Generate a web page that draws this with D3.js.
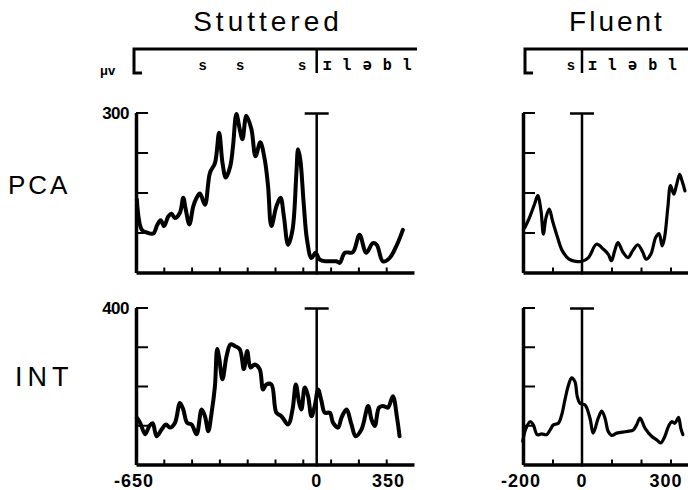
<html>
<head>
  <script src="https://d3js.org/d3.v7.min.js"></script>
  <style>
    body { margin: 0; background: #fff; }
    text { font-family: "Liberation Sans", Arial, sans-serif; fill: #000; }
    .trace { fill: none; stroke: #000; stroke-width: 3.5; stroke-linejoin: round; stroke-linecap: round; }
    .axis path { stroke: #000; stroke-width: 3.5; }
    .axis line { stroke: #000; stroke-width: 2; }
    .zero { stroke: #000; stroke-width: 2.5; }
    .box { fill: none; stroke: #000; stroke-width: 2.5; }
  </style>
</head>
<body>
  <svg id="chart" width="688" height="490"></svg>
  <script>
    // ---- data: [ms, microvolts] ----
    const pcaStuttered = [
      [-647, 137], [-629, 80], [-611, 75], [-588, 73], [-573, 90], [-561, 98], [-549, 87], [-534, 105],
      [-522, 110], [-510, 102], [-492, 112], [-480, 140], [-471, 118], [-458, 90], [-444, 124], [-432, 140],
      [-420, 148], [-402, 127], [-384, 187], [-366, 205], [-351, 262], [-339, 206], [-327, 178], [-311, 199],
      [-301, 237], [-289, 297], [-277, 269], [-267, 250], [-253, 294], [-235, 269], [-220, 218], [-203, 244],
      [-187, 212], [-175, 162], [-163, 87], [-145, 124], [-130, 140], [-118, 105], [-103, 52], [-87, 80],
      [-73, 187], [-67, 231], [-59, 212], [-47, 131], [-35, 62], [-19, 27], [-4, 37], [11, 24], [35, 21],
      [71, 21], [83, 18], [101, 37], [130, 38], [154, 71], [178, 37], [202, 55], [216, 52], [238, 21],
      [262, 27], [286, 49], [310, 80]
    ];
    const intStuttered = [
      [-647, 119], [-635, 106], [-617, 77], [-602, 98], [-590, 105], [-576, 72], [-558, 89], [-542, 102],
      [-528, 94], [-510, 106], [-492, 157], [-480, 140], [-466, 106], [-450, 102], [-432, 77], [-414, 140],
      [-402, 123], [-390, 85], [-378, 132], [-366, 200], [-358, 294], [-351, 272], [-339, 217], [-324, 277],
      [-310, 306], [-295, 302], [-277, 294], [-262, 243], [-250, 289], [-238, 247], [-223, 255], [-205, 243],
      [-193, 191], [-181, 204], [-163, 204], [-145, 132], [-127, 123], [-103, 102], [-87, 140], [-75, 204],
      [-63, 157], [-55, 140], [-43, 196], [-31, 174], [-19, 123], [-7, 149], [5, 191], [17, 162], [29, 132],
      [47, 132], [59, 106], [77, 94], [89, 119], [107, 140], [125, 102], [140, 72], [161, 89], [185, 149],
      [197, 115], [209, 98], [224, 145], [238, 149], [256, 145], [274, 174], [289, 119], [298, 72]
    ];
    const pcaFluent = [
      [-194, 84], [-178, 103], [-161, 128], [-150, 144], [-139, 116], [-131, 72], [-122, 103], [-111, 119],
      [-100, 97], [-83, 66], [-67, 41], [-44, 25], [-22, 21], [0, 21], [22, 28], [49, 53], [72, 44],
      [89, 34], [100, 22], [111, 41], [122, 56], [139, 38], [156, 28], [172, 41], [189, 52], [206, 38],
      [217, 25], [233, 34], [250, 66], [261, 73], [272, 50], [280, 66], [291, 122], [300, 163], [311, 147],
      [320, 163], [331, 184], [339, 172], [349, 153]
    ];
    const intFluent = [
      [-201, 59], [-190, 92], [-176, 109], [-165, 101], [-152, 76], [-137, 78], [-120, 76], [-108, 88],
      [-97, 101], [-80, 105], [-69, 126], [-58, 164], [-46, 202], [-35, 221], [-24, 211], [-16, 173],
      [-7, 156], [10, 152], [27, 118], [38, 80], [55, 118], [67, 136], [78, 118], [89, 84], [101, 74],
      [118, 80], [152, 84], [174, 88], [185, 101], [197, 118], [214, 92], [236, 72], [253, 63], [267, 55],
      [281, 72], [293, 97], [304, 109], [315, 105], [327, 120], [335, 92], [342, 76]
    ];

    const pcaTicks = [75, 150, 225, 300];
    const intTicks = [100, 200, 300, 400];
    const stutXTicks = [-550, -450, -350, -250, -150, -50, 50, 150, 250];
    const fluXTicks = [-100, 100, 200, 300];
    const stutXLabels = [-650, 0, 350];
    const fluXLabels = [-200, 0, 300];
    const stutSegments = [["s", -410], ["s", -275], ["s", -52]];
    const fluSegments = [["s", -38]];
    const phonemes = "ɪ l ə b l";

    // ---- scales ----
    const svg = d3.select("#chart");
    const xStut = d3.scaleLinear().domain([-650, 350]).range([136, 414]);
    const xFlu = d3.scaleLinear().domain([-200, 400]).range([523, 700]);
    const yPca = d3.scaleLinear().domain([0, 300]).range([272.5, 112.5]);
    const yInt = d3.scaleLinear().domain([0, 400]).range([464.5, 307.5]);

    function drawPanel(x, y, data, xTicks, yTicks, topLabel, lineW) {
      const g = svg.append("g");
      const x0 = x.range()[0];
      const yTop = y.range()[1];

      g.append("g").attr("class", "axis")
        .attr("transform", `translate(${x0},0)`)
        .call(d3.axisRight(y).tickValues(yTicks).tickSize(12).tickSizeOuter(0).tickFormat(""));

      g.append("g").attr("class", "axis")
        .attr("transform", `translate(0,${y(0)})`)
        .call(d3.axisTop(x).tickValues(xTicks).tickSize(5).tickSizeOuter(0).tickFormat(""));

      // stimulus onset marker
      g.append("line").attr("class", "zero")
        .attr("x1", x(0)).attr("x2", x(0)).attr("y1", yTop + 1).attr("y2", y(0) + 2);
      g.append("line").attr("class", "zero")
        .attr("x1", x(0) - 12).attr("x2", x(0) + 12).attr("y1", yTop + 1).attr("y2", yTop + 1);

      const line = d3.line().x(d => x(d[0])).y(d => y(d[1])).curve(d3.curveCatmullRom);
      g.append("path").datum(data).attr("class", "trace").attr("d", line)
        .style("stroke-width", lineW);

      if (topLabel) {
        g.append("text")
          .attr("x", x0 - 7).attr("y", yTop + 6)
          .attr("text-anchor", "end")
          .style("font-size", "17px").style("font-weight", "bold").style("letter-spacing", "-0.5px")
          .text(topLabel);
      }
    }

    drawPanel(xStut, yPca, pcaStuttered, stutXTicks, pcaTicks, "300", 4);
    drawPanel(xStut, yInt, intStuttered, stutXTicks, intTicks, "400", 4);
    drawPanel(xFlu, yPca, pcaFluent, fluXTicks, pcaTicks, null, 3.2);
    drawPanel(xFlu, yInt, intFluent, fluXTicks, intTicks, null, 3.2);

    // x labels under the INT row
    function xLabels(x, vals, lastShift) {
      vals.forEach((v, i) => {
        let px = x(v), anchor = "middle";
        if (i === 0) { px = x(v) + 18; anchor = "end"; }
        if (i === vals.length - 1) { px = x(v) + lastShift; anchor = "end"; }
        svg.append("text")
          .attr("x", px).attr("y", 487)
          .attr("text-anchor", anchor)
          .style("font-size", "18px").style("font-weight", "bold").style("letter-spacing", "1px")
          .text(v < 0 ? "-" + Math.abs(v) : v);
      });
    }
    xLabels(xStut, stutXLabels, -9);
    xLabels(xFlu, fluXLabels, 12);

    // titles and row labels
    svg.append("text").attr("x", 268).attr("y", 31).attr("text-anchor", "middle")
      .style("font-size", "28px").style("letter-spacing", "4px").text("Stuttered");
    svg.append("text").attr("x", 617).attr("y", 31).attr("text-anchor", "middle")
      .style("font-size", "28px").style("letter-spacing", "3px").text("Fluent");
    svg.append("text").attr("x", 8).attr("y", 194)
      .style("font-size", "26px").style("letter-spacing", "3px").text("PCA");
    svg.append("text").attr("x", 15).attr("y", 386)
      .style("font-size", "27px").style("letter-spacing", "5px").text("INT");
    svg.append("text").attr("x", 100).attr("y", 75)
      .style("font-size", "13px").style("font-weight", "bold").text("μv");

    // segment boxes above each column
    function segBox(x, left, right, segs) {
      const top = 49, bot = 73;
      svg.append("path").attr("class", "box")
        .attr("d", `M${left + 8},${bot} H${left} V${top} H${right}`)
        .style("stroke-width", 3);
      svg.append("line").attr("class", "box")
        .attr("x1", x(0)).attr("x2", x(0)).attr("y1", top).attr("y2", bot);
      segs.forEach(s => {
        svg.append("text").attr("x", x(s[1])).attr("y", 70).attr("text-anchor", "middle")
          .style("font-size", "14px").style("font-weight", "bold").text(s[0]);
      });
      svg.append("text").attr("x", x(0) + 6).attr("y", 70)
        .style("font-family", "'DejaVu Sans Mono', monospace")
        .style("font-size", "15px").style("font-weight", "bold").style("letter-spacing", "1px")
        .text(phonemes);
    }
    segBox(xStut, 134, 417, stutSegments);
    segBox(xFlu, 525, 690, fluSegments);
  </script>
</body>
</html>
